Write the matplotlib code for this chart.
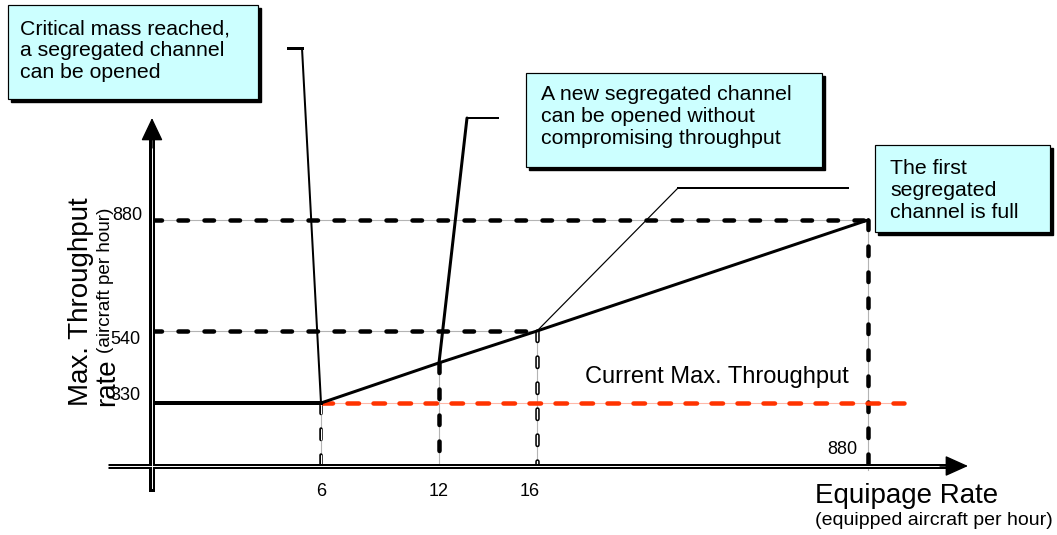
import numpy as np
import matplotlib
matplotlib.use('Agg')
import matplotlib.pyplot as plt
from matplotlib.patches import Rectangle
from matplotlib.lines import Line2D

plt.rcParams['font.family'] = 'Liberation Sans'
plt.rcParams['lines.scale_dashes'] = False

# chart values
equipage_ticks = [6, 12, 16, 880]
throughput_ticks = [330, 540, 880]
curve_x = [0, 6, 12, 16, 880]          # equipped aircraft per hour
curve_y = [330, 330, 447, 540, 880]    # max throughput
current_max = 330
current_x = [6, 975]

box_texts = ['Critical mass reached,\na segregated channel\ncan be opened',
             'A new segregated channel\ncan be opened without\ncompromising throughput',
             'The first\nsegregated\nchannel is full']

W, H = 1057, 535
PT = 0.72  # points per pixel at 100 dpi


def piecewise(vals, pos):
    # piecewise linear axis (the diagram is not to scale)
    vals = np.asarray(vals, float)
    pos = np.asarray(pos, float)
    s0 = (pos[1] - pos[0]) / (vals[1] - vals[0])
    s1 = (pos[-1] - pos[-2]) / (vals[-1] - vals[-2])

    def fwd(v):
        v = np.asarray(v, float)
        out = np.interp(v, vals, pos)
        out = np.where(v < vals[0], pos[0] + (v - vals[0]) * s0, out)
        return np.where(v > vals[-1], pos[-1] + (v - vals[-1]) * s1, out)

    def inv(p):
        p = np.asarray(p, float)
        out = np.interp(p, pos, vals)
        out = np.where(p < pos[0], vals[0] + (p - pos[0]) / s0, out)
        return np.where(p > pos[-1], vals[-1] + (p - pos[-1]) / s1, out)
    return fwd, inv


x_fwd, x_inv = piecewise([0, 6, 12, 16, 880], [152, 321, 439, 537, 868])
y_fwd, y_inv = piecewise([0, 330, 540, 880], [H - 466, H - 403, H - 331, H - 220])

fig = plt.figure(figsize=(W / 100, H / 100), dpi=100)
ax = fig.add_axes([0, 0, 1, 1])
ax.set_xscale('function', functions=(x_fwd, x_inv))
ax.set_yscale('function', functions=(y_fwd, y_inv))
ax.set_xlim(float(x_inv(0)), float(x_inv(W)))
ax.set_ylim(float(y_inv(0)), float(y_inv(H)))
ax.axis('off')


def dashed(x, y, lw_px, color='k', guide='#b4b4b4', on=14, off=12, outline=False):
    lw = lw_px * PT
    d = (max(on * PT - lw, 0.1), off * PT + lw)
    ax.plot(x, y, color=guide, lw=0.8, zorder=2)
    ax.plot(x, y, color=color, lw=lw, dashes=d, dash_capstyle='round', zorder=3)
    if outline:
        ax.plot(x, y, color='white', lw=lw * 0.3, dashes=d, dash_capstyle='round', zorder=4)


# horizontal level lines
dashed([0, curve_x[-1]], [curve_y[-1]] * 2, 4.5)
dashed([0, curve_x[3]], [curve_y[3]] * 2, 4.5)
# vertical drop lines
dashed([curve_x[1]] * 2, [curve_y[1], 0], 3.5, outline=True)
dashed([curve_x[2]] * 2, [curve_y[2], 0], 4.5)
dashed([curve_x[3]] * 2, [curve_y[3], 0], 4.5, outline=True)
dashed([curve_x[4]] * 2, [curve_y[4], -20], 4.5)
# current max throughput
dashed(current_x, [current_max] * 2, 4.5, color='#ff3300', guide='#ffb8a8', on=16, off=10)

# throughput curve
ax.plot(curve_x[:2], curve_y[:2], color='k', lw=4 * PT, zorder=5)
ax.plot(curve_x[1:], curve_y[1:], color='k', lw=3 * PT, zorder=5)

# axes with arrows
xt = ax.get_yaxis_transform()
yt = ax.get_xaxis_transform()
ax.plot([108 / W, 950 / W], [0, 0], transform=xt, color='k', lw=5 * PT,
        solid_capstyle='butt', zorder=6, clip_on=False)
ax.plot([108 / W, 948 / W], [0, 0], transform=xt, color='white', lw=0.7,
        zorder=7, clip_on=False)
ax.annotate('', xy=(968 / W, 0), xytext=(940 / W, 0), xycoords=xt,
            arrowprops=dict(arrowstyle='-|>,head_length=0.8,head_width=0.36',
                            mutation_scale=18, color='k', lw=1, shrinkA=0, shrinkB=0),
            zorder=7)
ax.plot([0, 0], [(H - 492) / H, (H - 135) / H], transform=yt, color='k', lw=6 * PT,
        solid_capstyle='butt', zorder=6, clip_on=False)
ax.plot([0, 0], [(H - 488) / H, (H - 138) / H], transform=yt, color='white', lw=0.7,
        zorder=7, clip_on=False)
ax.annotate('', xy=(0, (H - 118) / H), xytext=(0, (H - 148) / H), xycoords=yt,
            arrowprops=dict(arrowstyle='-|>,head_length=0.8,head_width=0.38',
                            mutation_scale=18, color='k', lw=1, shrinkA=0, shrinkB=0),
            zorder=7)

# tick labels
for v, dx in zip(equipage_ticks[:3], [0, 0, -7]):
    ax.annotate(str(v), xy=(v, 0), xytext=(dx, -26), textcoords='offset pixels',
                ha='center', va='center', fontsize=13)
ax.annotate(str(equipage_ticks[3]), xy=(equipage_ticks[3], 0), xytext=(-26, 16),
            textcoords='offset pixels', ha='center', va='center', fontsize=13)
for v, off in zip(throughput_ticks, [(-12, 8), (-12, -9), (-10, 5)]):
    ax.annotate(str(v), xy=(0, v), xytext=off, textcoords='offset pixels',
                ha='right', va='center', fontsize=13)


def fig_line(x, y, lw_px):
    fig.add_artist(Line2D([a / W for a in x], [1 - b / H for b in y],
                          transform=fig.transFigure, color='k', lw=lw_px * PT))


# callout leader lines
for pt, tip, lw in [((curve_x[1], curve_y[1]), (302, 48), 2),
                    ((curve_x[2], curve_y[2]), (467, 118), 3),
                    ((curve_x[3], curve_y[3]), (678, 188), 1.2)]:
    ax.annotate('', xy=pt, xytext=(tip[0], H - tip[1]), textcoords='figure pixels',
                arrowprops=dict(arrowstyle='-', color='k', lw=lw * PT,
                                shrinkA=0, shrinkB=0), zorder=5)
fig_line([288, 302], [48, 48], 3)
fig_line([467, 498], [118, 118], 2)
fig_line([678, 848], [188, 188], 2)

# callout boxes
boxes = [((8, 5, 258, 99), (20, 51)),
         ((526, 73, 822, 167), (541, 117)),
         ((875, 145, 1050, 232), (890, 190))]
for (x0, y0, x1, y1), (tx, ty), txt in zip([b[0] for b in boxes], [b[1] for b in boxes], box_texts):
    fig.add_artist(Rectangle(((x0 + 3) / W, 1 - (y1 + 3) / H), (x1 - x0) / W, (y1 - y0) / H,
                             transform=fig.transFigure, facecolor='k', edgecolor='k', zorder=8))
    fig.add_artist(Rectangle((x0 / W, 1 - y1 / H), (x1 - x0) / W, (y1 - y0) / H,
                             transform=fig.transFigure, facecolor='#ccffff', edgecolor='k',
                             lw=1.2 * PT, zorder=9))
    fig.text(tx / W, 1 - ty / H, txt, ha='left', va='center', fontsize=15.3,
             linespacing=1.2, zorder=10)

# axis titles and annotation text
fig.text(585 / W, 1 - 383 / H, 'Current Max. Throughput', ha='left', va='baseline', fontsize=17)
fig.text(815 / W, 1 - 503 / H, 'Equipage Rate', ha='left', va='baseline', fontsize=20)
fig.text(815 / W, 1 - 525 / H, '(equipped aircraft per hour)', ha='left', va='baseline',
         fontsize=14)
fig.text(68 / W, 1 - 406 / H, 'Max. Throughput\nrate', rotation=90, ha='left', va='bottom',
         fontsize=20, linespacing=1.0, multialignment='left')
fig.text(105 / W, 1 - 280 / H, '(aircraft per hour)', rotation=90, ha='center', va='center',
         fontsize=13.6)

fig.savefig('out.png', dpi=100, facecolor='white')
